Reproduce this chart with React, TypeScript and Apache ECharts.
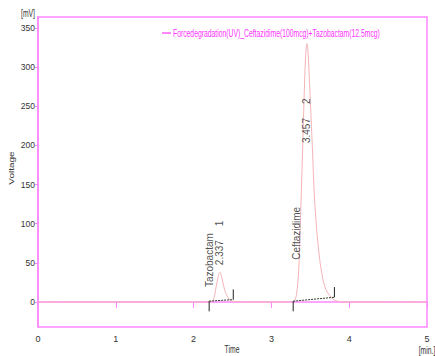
import React, { useEffect, useRef } from "react";
import * as echarts from "echarts";

// Chromatogram signal (time in min, voltage in mV)
const times = [
  0, 0.5, 1.0, 1.5, 2.0, 2.2, 2.24, 2.26, 2.28, 2.3, 2.32, 2.337, 2.35, 2.37, 2.39, 2.41, 2.44, 2.47, 2.52, 2.6,
  3.0, 3.28, 3.3, 3.32, 3.34, 3.36, 3.38, 3.4, 3.42, 3.44, 3.457, 3.47, 3.49, 3.51, 3.53, 3.55, 3.58, 3.62, 3.66,
  3.7, 3.75, 3.8, 3.85, 3.9, 4.5, 5.0,
];
const voltage = [
  0, 0, 0, 0, 0, 0, 1, 4, 14, 25, 34, 38, 36, 28, 19, 12, 6, 2, 0.5, 0,
  0, 0, 2, 8, 25, 60, 125, 190, 260, 315, 330, 320, 280, 235, 190, 140, 95, 55, 30,
  16, 8, 3, 1, 0, 0, 0,
];

// Peak table
const peakNames = ["Tazobactam", "Ceftazidime"];
const peakNumbers = [1, 2];
const retentionTimes = [2.337, 3.457];
const peakStarts = [2.2, 3.28];
const peakEnds = [2.51, 3.81];
const baselineStartLevels = [1, 1];
const baselineEndLevels = [3, 6];

// Axis ticks
const yTicks = [0, 50, 100, 150, 200, 250, 300, 350];
const xTicks = [0, 1, 2, 3, 4, 5];

const seriesName = "Forcedegradation(UV)_Ceftazidime(100mcg)+Tazobactam(12.5mcg)";

const PINK = "#ff88ff";
const SANS = "'Liberation Sans', Arial, sans-serif";
const SQUEEZE = 0.68;

export default function App() {
  const ref = useRef<HTMLDivElement>(null);

  useEffect(() => {
    if (!ref.current) return;
    const chart = echarts.init(ref.current, undefined, { renderer: "svg" });

    const signal = times.map((t, i) => [t, voltage[i]]);

    const integrationSeries: any[] = [];
    peakStarts.forEach((s, i) => {
      const e = peakEnds[i];
      integrationSeries.push({
        type: "line",
        silent: true,
        symbol: "none",
        data: [
          [s, baselineStartLevels[i]],
          [e, baselineEndLevels[i]],
        ],
        lineStyle: { color: "#2f3f2a", width: 1, type: [2, 1] },
        z: 3,
      });
      integrationSeries.push({
        type: "line",
        silent: true,
        symbol: "none",
        data: [
          [s, baselineStartLevels[i]],
          [s, baselineStartLevels[i] - 13],
        ],
        lineStyle: { color: "#222", width: 1 },
        z: 3,
      });
      integrationSeries.push({
        type: "line",
        silent: true,
        symbol: "none",
        data: [
          [e, baselineEndLevels[i]],
          [e, baselineEndLevels[i] + 13],
        ],
        lineStyle: { color: "#222", width: 1 },
        z: 3,
      });
    });

    // annotation anchors derived from peaks
    const nameAnchors = [19, 54];
    const rtAnchors = [47, 203];

    const labelSeries = {
      type: "scatter",
      silent: true,
      symbolSize: 0,
      data: [
        ...retentionTimes.map((rt, i) => ({
          value: [rt, rtAnchors[i]],
          label: { formatter: `${rt.toFixed(3)}     ${peakNumbers[i]}` },
        })),
        ...retentionTimes.map((rt, i) => ({
          value: [rt - 0.135, nameAnchors[i]],
          label: { formatter: peakNames[i] },
        })),
      ],
      label: {
        show: true,
        position: "inside",
        rotate: 90,
        align: "left",
        verticalAlign: "middle",
        fontFamily: SANS,
        fontSize: 10,
        color: "#222",
      },
      z: 4,
    };

    const axisTitle = (text: string, x: number, y: number, rot = 0, size = 10) => ({
      type: "text",
      x,
      y,
      rotation: rot,
      scaleX: rot ? 1 : SQUEEZE,
      scaleY: rot ? SQUEEZE : 1,
      style: { text, fontFamily: SANS, fontSize: size, fill: "#333", align: "center", verticalAlign: "middle" },
    });

    chart.setOption({
      animation: false,
      grid: {
        left: 38,
        right: 8,
        top: 17,
        bottom: 29,
        show: true,
        borderColor: PINK,
        borderWidth: 1.5,
        backgroundColor: "#fff",
      },
      legend: { show: false, data: [seriesName] },
      xAxis: {
        type: "value",
        min: 0,
        max: 5,
        interval: 1,
        axisLine: { show: true, lineStyle: { color: PINK, width: 1.5 } },
        axisTick: { show: true, length: 6, lineStyle: { color: PINK } },
        axisLabel: {
          color: "#333",
          fontFamily: SANS,
          fontSize: 9,
          margin: 7,
          customValues: xTicks,
        },
        splitLine: { show: false },
      },
      yAxis: {
        type: "value",
        min: -32,
        max: 364,
        axisLine: { show: true, lineStyle: { color: PINK, width: 1.5 } },
        axisTick: { show: true, length: 3, lineStyle: { color: PINK }, customValues: yTicks },
        axisLabel: {
          color: "#333",
          fontFamily: SANS,
          fontSize: 8.5,
          margin: 3,
          customValues: yTicks,
        },
        splitLine: { show: false },
      },
      graphic: [
        axisTitle("[mV]", 28, 13),
        axisTitle("Voltage", 12, 168, Math.PI / 2),
        axisTitle("Time", 232, 349),
        axisTitle("[min.]", 427, 350),
        {
          type: "group",
          x: 162,
          y: 33,
          children: [
            { type: "rect", shape: { x: 0, y: -1, width: 9, height: 2 }, style: { fill: PINK } },
            {
              type: "text",
              x: 11,
              y: 0,
              scaleX: SQUEEZE,
              style: {
                text: seriesName,
                fontFamily: SANS,
                fontSize: 10,
                fill: "#ff33ff",
                align: "left",
                verticalAlign: "middle",
              },
            },
          ],
        },
      ],
      series: [
        {
          name: seriesName,
          type: "line",
          symbol: "none",
          smooth: 0.3,
          data: signal,
          lineStyle: { color: "#f6b4b8", width: 1 },
          itemStyle: { color: PINK },
          z: 2,
        },
        ...integrationSeries,
        labelSeries,
      ],
    });

    return () => chart.dispose();
  }, []);

  return <div ref={ref} style={{ width: 435, height: 356, position: "absolute", left: 0, top: 0 }} />;
}
